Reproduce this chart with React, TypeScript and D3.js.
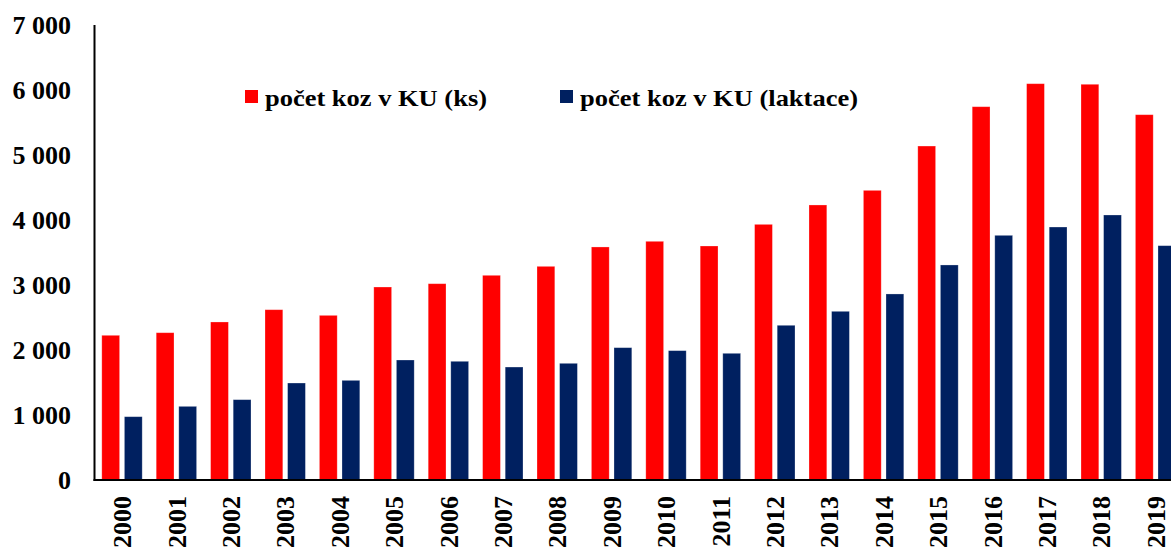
import React from "react";
import * as d3 from "d3";

const years = ["2000","2001","2002","2003","2004","2005","2006","2007","2008","2009","2010","2011","2012","2013","2014","2015","2016","2017","2018","2019"];
const kozKs = [2226, 2266, 2431, 2620, 2533, 2969, 3020, 3149, 3287, 3585, 3672, 3600, 3933, 4231, 4456, 5138, 5743, 6097, 6088, 5620];
const kozLaktace = [974, 1133, 1236, 1492, 1533, 1846, 1826, 1738, 1795, 2036, 1990, 1949, 2380, 2595, 2862, 3308, 3764, 3892, 4077, 3605];
const seriesNames = ["počet koz v KU (ks)", "počet koz v KU (laktace)"];
const seriesColors = ["#FF0000", "#002060"];
const yTicks = [0, 1000, 2000, 3000, 4000, 5000, 6000, 7000];

const W = 1171;
const H = 549;
const FONT = "'Liberation Serif', 'Times New Roman', serif";

export default function App() {
  const x0 = d3.scaleBand<string>().domain(years).range([94.8, 94.8 + 54.4 * 20]).padding(0);
  const x1 = d3
    .scaleBand<number>()
    .domain([0, 1])
    .range([7, 47.4])
    .paddingInner(0.212)
    .paddingOuter(0);
  const y = d3.scaleLinear().domain([0, 7000]).range([480, 25]);
  const fmt = (v: number) => d3.format(",")(v).replace(/,/g, " ");
  const data = [kozKs, kozLaktace];

  const legendX = [245, 560];
  const legendTextLen = [222, 278];

  return (
    <svg
      width={W}
      height={H}
      style={{ position: "fixed", left: 0, top: 0, background: "#fff" }}
      fontFamily={FONT}
    >
      <rect x={0} y={0} width={W} height={H} fill="#fff" />
      {data.map((vals, si) =>
        vals.map((v, i) => (
          <rect
            key={`${si}-${i}`}
            x={(x0(years[i]) as number) + (x1(si) as number)}
            y={y(v)}
            width={x1.bandwidth()}
            height={y(0) - y(v)}
            fill={seriesColors[si]}
            stroke="#ffffff"
            strokeOpacity={0.35}
            strokeWidth={0.75}
          />
        ))
      )}
      {/* axes */}
      <line x1={94.5} x2={94.5} y1={25} y2={481} stroke="#000" strokeWidth={2} />
      <line x1={93.5} x2={W} y1={480} y2={480} stroke="#000" strokeWidth={2} />
      {yTicks.map((t) => (
        <text
          key={t}
          x={71}
          y={y(t)}
          dy="0.35em"
          textAnchor="end"
          fontSize={26}
          fontWeight="bold"
          fill="#000"
        >
          {fmt(t)}
        </text>
      ))}
      {years.map((yr) => {
        const cx = (x0(yr) as number) + x0.bandwidth() / 2;
        return (
          <text
            key={yr}
            transform={`translate(${cx},496) rotate(-90)`}
            dy="0.35em"
            textAnchor="end"
            fontSize={26}
            fontWeight="bold"
            fill="#000"
          >
            {yr}
          </text>
        );
      })}
      {/* legend */}
      {seriesNames.map((name, i) => (
        <g key={name}>
          <rect x={legendX[i]} y={90} width={13} height={13} fill={seriesColors[i]} />
          <text
            x={legendX[i] + 20}
            y={105.5}
            fontSize={24}
            fontWeight="bold"
            fill="#000"
            textLength={legendTextLen[i]}
            lengthAdjust="spacingAndGlyphs"
          >
            {name}
          </text>
        </g>
      ))}
    </svg>
  );
}
